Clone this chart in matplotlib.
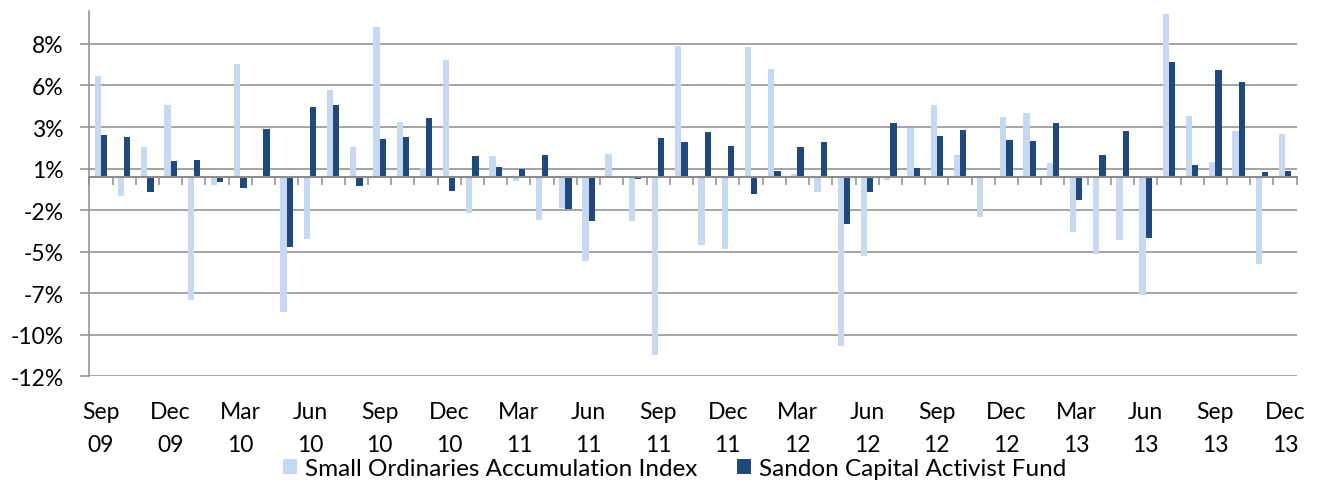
import matplotlib.pyplot as plt
import numpy as np

plt.rcParams["font.family"] = ["Lato", "DejaVu Sans"]

# monthly returns (%), Sep 09 .. Dec 13
months = ["Sep", "Oct", "Nov", "Dec", "Jan", "Feb", "Mar", "Apr", "May", "Jun", "Jul", "Aug"]
years = ["09", "10", "11", "12", "13"]

small_ords = [
    6.06, -1.16, 1.78, 4.3, -7.4, -0.46, 6.82, 0.0, -8.16, -3.72, 5.2, 1.8,
    9.04, 3.28, 0.54, 7.06, -2.16, 1.28, -0.26, -2.6, -1.86, -5.06, 1.4, -2.66,
    -10.74, 7.9, -4.08, -4.34, 7.82, 6.5, 0.2, -0.9, -10.2, -4.76, -0.16, 2.94,
    4.34, 1.3, -2.4, 3.58, 3.84, 0.86, -3.3, -4.64, -3.78, -7.12, 9.8, 3.68,
    0.9, 2.74, -5.22, 2.56,
]
sandon = [
    2.5, 2.4, -0.94, 0.98, 1.0, -0.3, -0.66, 2.86, -4.22, 4.22, 4.34, -0.56,
    2.3, 2.4, 3.54, -0.86, 1.28, 0.6, 0.5, 1.34, -1.92, -2.64, -0.06, -0.1,
    2.32, 2.12, 2.72, 1.84, -1.02, 0.38, 1.78, 2.08, -2.82, -0.94, 3.26, 0.52,
    2.48, 2.8, 0.08, 2.2, 2.14, 3.22, -1.38, 1.3, 2.76, -3.7, 6.9, 0.74,
    6.44, 5.68, 0.3, 0.34,
]

yticks = [8, 5.5, 3, 0.5, -2, -4.5, -7, -9.5, -12]
ytick_labels = ["8%", "6%", "3%", "1%", "-2%", "-5%", "-7%", "-10%", "-12%"]

light = "#C6D9F1"
dark = "#1F497D"
grey = "#8C8C8C"
fs = 16.5

n = len(small_ords)
x = np.arange(n)
w = 0.27

fig = plt.figure(figsize=(13.2, 4.81), dpi=100)
ax = fig.add_axes([0.0677, 0.2156, 0.9146, 0.7601])
ax.set_axisbelow(True)

ax.bar(x - w / 2, small_ords, w, color=light, label="Small Ordinaries Accumulation Index")
ax.bar(x + w / 2, sandon, w, color=dark, label="Sandon Capital Activist Fund")

ax.set_xlim(-0.5, n - 0.5)
ax.set_ylim(-12, 10)
ax.set_yticks(yticks)
ax.set_yticklabels(ytick_labels)
ax.yaxis.grid(True, color=grey, linewidth=1.1)
ax.tick_params(axis="y", length=6.5, width=1.1, color=grey, pad=12, labelsize=fs)

for s in ["top", "right"]:
    ax.spines[s].set_visible(False)
ax.spines["left"].set_color(grey)
ax.spines["left"].set_linewidth(1.1)
ax.spines["bottom"].set_position(("data", 0))
ax.spines["bottom"].set_color(grey)
ax.spines["bottom"].set_linewidth(1.5)
ax.set_xticks(np.arange(n + 1) - 0.5)
ax.set_xticklabels([])
ax.tick_params(axis="x", length=5.5, width=1.1, color=grey)

# two-line category labels every quarter
tr = ax.get_xaxis_transform()
for i in range(0, n, 3):
    ax.text(i, -0.114, months[i % 12], transform=tr, ha="center", va="baseline", fontsize=fs)
    ax.text(i, -0.204, years[(i + 8) // 12], transform=tr, ha="center", va="baseline", fontsize=fs)

fig.legend(loc="center", bbox_to_anchor=(0.511, 0.024), ncol=2, frameon=False,
           fontsize=17.5, handlelength=0.58, handleheight=0.58, handletextpad=0.3,
           columnspacing=1.65, borderaxespad=0)

fig.savefig("out.png", dpi=100)
